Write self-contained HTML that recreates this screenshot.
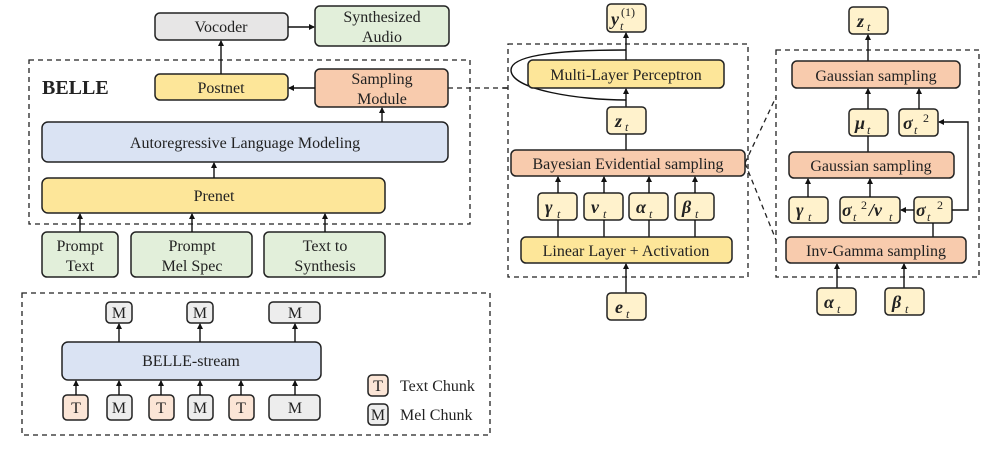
<!DOCTYPE html>
<html><head><meta charset="utf-8"><style>
html,body{margin:0;padding:0;background:#fff;}
svg{display:block;font-family:"Liberation Serif",serif;}
.b{stroke:#222;stroke-width:1.5;}
.d{fill:none;stroke:#222;stroke-width:1.3;stroke-dasharray:5,4;}
.l{stroke:#111;stroke-width:1.4;fill:none;}
text{fill:#222;}
.m{font-weight:bold;font-style:italic;}
</style></head><body>
<svg width="996" height="450" viewBox="0 0 996 450" xmlns="http://www.w3.org/2000/svg">
<defs><marker id="a" markerWidth="6" markerHeight="6" refX="5" refY="3" orient="auto" markerUnits="userSpaceOnUse"><path d="M0,0 L6,3 L0,6 z" fill="#111"/></marker></defs>

<rect class="b" x="155" y="13" width="133" height="27" rx="5" fill="#e7e6e6"/>
<text x="221" y="32" font-size="16" text-anchor="middle">Vocoder</text>
<rect class="b" x="315" y="6" width="134" height="40" rx="5" fill="#e2efda"/>
<text x="382" y="22" font-size="16" text-anchor="middle">Synthesized</text>
<text x="382" y="42" font-size="16" text-anchor="middle">Audio</text>
<line class="l" x1="288" y1="27" x2="314" y2="27" marker-end="url(#a)"/>

<rect class="d" x="29" y="60" width="441" height="164"/>
<text x="42" y="94" font-size="20" font-weight="bold">BELLE</text>
<rect class="b" x="155" y="74" width="133" height="26" rx="5" fill="#fde699"/>
<text x="221" y="93" font-size="16" text-anchor="middle">Postnet</text>
<rect class="b" x="315" y="69" width="133" height="38" rx="5" fill="#f8cbad"/>
<text x="382" y="84" font-size="16" text-anchor="middle">Sampling</text>
<text x="382" y="104" font-size="16" text-anchor="middle">Module</text>
<line class="l" x1="315" y1="88" x2="289" y2="88" marker-end="url(#a)"/>
<line class="l" x1="221" y1="74" x2="221" y2="41" marker-end="url(#a)"/>
<line class="d" x1="448" y1="88" x2="508" y2="88"/>
<line class="l" x1="503" y1="88" x2="508" y2="88"/>

<rect class="b" x="42" y="122" width="406" height="40" rx="6" fill="#dae3f3"/>
<text x="245" y="148" font-size="16" text-anchor="middle">Autoregressive Language Modeling</text>
<line class="l" x1="382" y1="122" x2="382" y2="108" marker-end="url(#a)"/>
<rect class="b" x="42" y="178" width="343" height="35" rx="6" fill="#fde699"/>
<text x="214" y="201" font-size="16" text-anchor="middle">Prenet</text>
<line class="l" x1="214" y1="178" x2="214" y2="163" marker-end="url(#a)"/>

<rect class="b" x="42" y="232" width="76" height="45" rx="5" fill="#e2efda"/>
<text x="80" y="251" font-size="16" text-anchor="middle">Prompt</text>
<text x="80" y="271" font-size="16" text-anchor="middle">Text</text>
<rect class="b" x="131" y="232" width="121" height="45" rx="5" fill="#e2efda"/>
<text x="192" y="251" font-size="16" text-anchor="middle">Prompt</text>
<text x="192" y="271" font-size="16" text-anchor="middle">Mel Spec</text>
<rect class="b" x="264" y="232" width="121" height="45" rx="5" fill="#e2efda"/>
<text x="325" y="251" font-size="16" text-anchor="middle">Text to</text>
<text x="325" y="271" font-size="16" text-anchor="middle">Synthesis</text>
<line class="l" x1="80" y1="232" x2="80" y2="214" marker-end="url(#a)"/>
<line class="l" x1="192" y1="232" x2="192" y2="214" marker-end="url(#a)"/>
<line class="l" x1="325" y1="232" x2="325" y2="214" marker-end="url(#a)"/>

<rect class="d" x="22" y="293" width="468" height="142"/>
<g font-size="16" text-anchor="middle">
<rect class="b" x="106" y="302" width="26" height="21" rx="4" fill="#ededed"/><text x="119" y="318">M</text>
<rect class="b" x="187" y="302" width="26" height="21" rx="4" fill="#ededed"/><text x="200" y="318">M</text>
<rect class="b" x="269" y="302" width="51" height="21" rx="4" fill="#ededed"/><text x="295" y="318">M</text>
<rect class="b" x="62" y="342" width="259" height="38" rx="6" fill="#dae3f3"/><text x="191" y="366">BELLE-stream</text>
<rect class="b" x="63" y="395" width="25" height="25" rx="4" fill="#fbe5d6"/><text x="76" y="413">T</text>
<rect class="b" x="107" y="395" width="25" height="25" rx="4" fill="#ededed"/><text x="119" y="413">M</text>
<rect class="b" x="149" y="395" width="25" height="25" rx="4" fill="#fbe5d6"/><text x="161" y="413">T</text>
<rect class="b" x="188" y="395" width="25" height="25" rx="4" fill="#ededed"/><text x="200" y="413">M</text>
<rect class="b" x="229" y="395" width="25" height="25" rx="4" fill="#fbe5d6"/><text x="241" y="413">T</text>
<rect class="b" x="269" y="395" width="51" height="25" rx="4" fill="#ededed"/><text x="295" y="413">M</text>
<rect class="b" x="368" y="375" width="20" height="21" rx="4" fill="#fbe5d6"/><text x="378" y="391">T</text>
<rect class="b" x="368" y="404" width="20" height="21" rx="4" fill="#ededed"/><text x="378" y="420">M</text>
</g>
<text x="400" y="391" font-size="16">Text Chunk</text>
<text x="400" y="420" font-size="16">Mel Chunk</text>
<g class="l">
<line x1="119" y1="342" x2="119" y2="324" marker-end="url(#a)"/>
<line x1="200" y1="342" x2="200" y2="324" marker-end="url(#a)"/>
<line x1="295" y1="342" x2="295" y2="324" marker-end="url(#a)"/>
<line x1="76" y1="395" x2="76" y2="381" marker-end="url(#a)"/>
<line x1="119" y1="395" x2="119" y2="381" marker-end="url(#a)"/>
<line x1="161" y1="395" x2="161" y2="381" marker-end="url(#a)"/>
<line x1="200" y1="395" x2="200" y2="381" marker-end="url(#a)"/>
<line x1="241" y1="395" x2="241" y2="381" marker-end="url(#a)"/>
<line x1="295" y1="395" x2="295" y2="381" marker-end="url(#a)"/>
</g>

<rect class="d" x="508" y="44" width="240" height="233"/>
<rect class="b" x="607" y="4" width="39" height="28" rx="4" fill="#fff2cc"/>
<text x="611" y="25" font-size="18" class="m">y</text><text x="620" y="30" font-size="12" font-style="italic">t</text><text x="621" y="16" font-size="12">(1)</text>
<path class="l" d="M626,50 C560,50 511,55 511,70 C511,90 580,100 626,100"/>
<rect class="b" x="528" y="60" width="196" height="28" rx="5" fill="#fde699"/>
<text x="626" y="80" font-size="16" text-anchor="middle">Multi-Layer Perceptron</text>
<line class="l" x1="626" y1="60" x2="626" y2="33" marker-end="url(#a)"/>
<line class="l" x1="626" y1="107" x2="626" y2="89" marker-end="url(#a)"/>
<rect class="b" x="607" y="107" width="39" height="27" rx="4" fill="#fff2cc"/>
<text x="615" y="127" font-size="18" class="m">z</text><text x="625" y="131" font-size="12" font-style="italic">t</text>
<line class="l" x1="626" y1="150" x2="626" y2="134"/>
<rect class="b" x="511" y="150" width="234" height="26" rx="5" fill="#f8cbad"/>
<text x="628" y="169" font-size="16" text-anchor="middle">Bayesian Evidential sampling</text>
<g font-size="18">
<rect class="b" x="538" y="193" width="39" height="27" rx="4" fill="#fff2cc"/><text x="545" y="213" class="m">γ</text><text x="557" y="218" font-size="12" font-style="italic">t</text>
<rect class="b" x="584" y="193" width="39" height="27" rx="4" fill="#fff2cc"/><text x="591" y="213" class="m">ν</text><text x="603" y="218" font-size="12" font-style="italic">t</text>
<rect class="b" x="629" y="193" width="39" height="27" rx="4" fill="#fff2cc"/><text x="636" y="213" class="m">α</text><text x="649" y="218" font-size="12" font-style="italic">t</text>
<rect class="b" x="675" y="193" width="39" height="27" rx="4" fill="#fff2cc"/><text x="682" y="213" class="m">β</text><text x="695" y="218" font-size="12" font-style="italic">t</text>
</g>
<g class="l">
<line x1="558" y1="193" x2="558" y2="177" marker-end="url(#a)"/><line x1="558" y1="237" x2="558" y2="220"/>
<line x1="604" y1="193" x2="604" y2="177" marker-end="url(#a)"/><line x1="604" y1="237" x2="604" y2="220"/>
<line x1="649" y1="193" x2="649" y2="177" marker-end="url(#a)"/><line x1="649" y1="237" x2="649" y2="220"/>
<line x1="695" y1="193" x2="695" y2="177" marker-end="url(#a)"/><line x1="695" y1="237" x2="695" y2="220"/>
<line x1="626" y1="293" x2="626" y2="264" marker-end="url(#a)"/>
</g>
<rect class="b" x="521" y="237" width="211" height="26" rx="5" fill="#fde699"/>
<text x="626" y="256" font-size="16" text-anchor="middle">Linear Layer + Activation</text>
<rect class="b" x="607" y="293" width="39" height="27" rx="4" fill="#fff2cc"/>
<text x="615" y="313" font-size="18" class="m">e</text><text x="626" y="318" font-size="12" font-style="italic">t</text>

<line class="d" x1="745" y1="163" x2="776" y2="97"/>
<line class="d" x1="745" y1="163" x2="776" y2="240"/>

<rect class="d" x="776" y="50" width="203" height="227"/>
<rect class="b" x="849" y="7" width="39" height="27" rx="4" fill="#fff2cc"/>
<text x="857" y="27" font-size="18" class="m">z</text><text x="867" y="31" font-size="12" font-style="italic">t</text>
<line class="l" x1="868" y1="61" x2="868" y2="35" marker-end="url(#a)"/>
<rect class="b" x="792" y="61" width="168" height="27" rx="5" fill="#f8cbad"/>
<text x="876" y="81" font-size="16" text-anchor="middle">Gaussian sampling</text>
<rect class="b" x="849" y="109" width="39" height="27" rx="4" fill="#fff2cc"/>
<text x="855" y="129" font-size="18" class="m">μ</text><text x="867" y="134" font-size="12" font-style="italic">t</text>
<rect class="b" x="899" y="109" width="39" height="27" rx="4" fill="#fff2cc"/>
<text x="903" y="129" font-size="18" class="m">σ</text><text x="914" y="134" font-size="12" font-style="italic">t</text><text x="923" y="122" font-size="12">2</text>
<line class="l" x1="868" y1="109" x2="868" y2="89" marker-end="url(#a)"/>
<line class="l" x1="919" y1="109" x2="919" y2="89" marker-end="url(#a)"/>
<line class="l" x1="868" y1="152" x2="868" y2="136"/>
<rect class="b" x="789" y="152" width="165" height="26" rx="5" fill="#f8cbad"/>
<text x="871" y="171" font-size="16" text-anchor="middle">Gaussian sampling</text>
<rect class="b" x="789" y="197" width="39" height="26" rx="4" fill="#fff2cc"/>
<text x="796" y="216" font-size="18" class="m">γ</text><text x="808" y="221" font-size="12" font-style="italic">t</text>
<rect class="b" x="840" y="197" width="60" height="26" rx="4" fill="#fff2cc"/>
<text x="842" y="216" font-size="18" class="m">σ</text><text x="853" y="221" font-size="12" font-style="italic">t</text><text x="861" y="209" font-size="12">2</text><text x="869" y="216" font-size="18" class="m">/ν</text><text x="889" y="221" font-size="12" font-style="italic">t</text>
<rect class="b" x="914" y="197" width="38" height="26" rx="4" fill="#fff2cc"/>
<text x="916" y="216" font-size="18" class="m">σ</text><text x="927" y="221" font-size="12" font-style="italic">t</text><text x="937" y="209" font-size="12">2</text>
<g class="l">
<line x1="808" y1="197" x2="808" y2="179" marker-end="url(#a)"/>
<line x1="870" y1="197" x2="870" y2="179" marker-end="url(#a)"/>
<line x1="914" y1="210" x2="901" y2="210" marker-end="url(#a)"/>
<polyline points="952,210 968,210 968,122 939,122" marker-end="url(#a)"/>
<line x1="933" y1="237" x2="933" y2="223"/>
<line x1="837" y1="288" x2="837" y2="264" marker-end="url(#a)"/>
<line x1="904" y1="288" x2="904" y2="264" marker-end="url(#a)"/>
</g>
<rect class="b" x="786" y="237" width="180" height="26" rx="5" fill="#f8cbad"/>
<text x="876" y="256" font-size="16" text-anchor="middle">Inv-Gamma sampling</text>
<rect class="b" x="817" y="288" width="39" height="27" rx="4" fill="#fff2cc"/>
<text x="824" y="308" font-size="18" class="m">α</text><text x="837" y="313" font-size="12" font-style="italic">t</text>
<rect class="b" x="885" y="288" width="39" height="27" rx="4" fill="#fff2cc"/>
<text x="892" y="308" font-size="18" class="m">β</text><text x="905" y="313" font-size="12" font-style="italic">t</text>
</svg>
</body></html>
